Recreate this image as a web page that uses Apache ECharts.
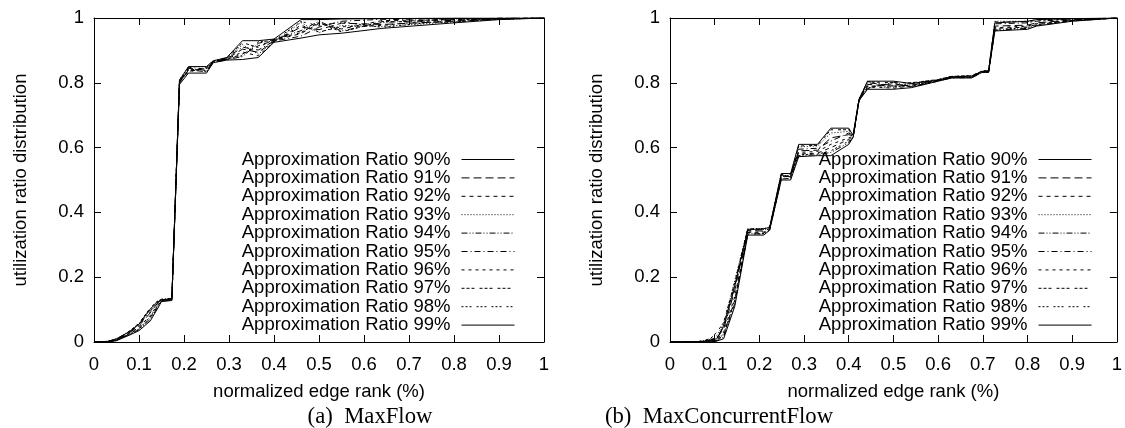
<!DOCTYPE html>
<html><head><meta charset="utf-8">
<script src="https://cdn.jsdelivr.net/npm/echarts@6/dist/echarts.min.js"></script>
<style>html,body{margin:0;padding:0;background:#fff}#c{width:1125px;height:428px}</style>
</head><body><div id="c"></div>
<script>
// ---------- data ----------
const seriesNames = ['Approximation Ratio 90%','Approximation Ratio 91%','Approximation Ratio 92%','Approximation Ratio 93%','Approximation Ratio 94%','Approximation Ratio 95%','Approximation Ratio 96%','Approximation Ratio 97%','Approximation Ratio 98%','Approximation Ratio 99%'];
const xTickValues = [0,0.1,0.2,0.3,0.4,0.5,0.6,0.7,0.8,0.9,1];
const yTickValues = [0,0.2,0.4,0.6,0.8,1];

// (a) MaxFlow
const xMaxFlow = [0,0.03,0.05,0.08,0.10,0.125,0.14,0.15,0.173,0.19,0.21,0.25,0.265,0.295,0.33,0.365,0.40,0.46,0.50,0.55,0.64,0.80,0.90,1];
const mf90 = [0,0,0.004,0.022,0.035,0.065,0.10,0.125,0.128,0.795,0.83,0.83,0.862,0.87,0.872,0.878,0.925,0.938,0.948,0.953,0.968,0.985,0.995,1];
const mf91 = [0,0.001,0.007,0.03,0.05,0.09,0.118,0.13,0.133,0.80,0.845,0.838,0.864,0.874,0.904,0.894,0.928,0.972,0.964,0.984,0.98,0.99,0.997,1];
const mf92 = [0,0,0.005,0.026,0.042,0.075,0.108,0.127,0.13,0.805,0.835,0.846,0.866,0.872,0.889,0.914,0.931,0.952,0.983,0.966,0.992,0.995,0.999,1];
const mf93 = [0,0.002,0.009,0.034,0.056,0.1,0.124,0.132,0.135,0.81,0.85,0.85,0.868,0.876,0.918,0.888,0.927,0.986,0.955,0.977,0.974,0.988,0.996,1];
const mf94 = [0,0.001,0.006,0.024,0.038,0.07,0.104,0.126,0.129,0.798,0.84,0.834,0.863,0.871,0.881,0.922,0.933,0.961,0.99,0.96,0.986,0.997,0.998,1];
const mf95 = [0,0,0.01,0.031,0.053,0.095,0.12,0.131,0.134,0.803,0.848,0.842,0.865,0.877,0.91,0.901,0.929,0.944,0.972,0.99,0.996,0.992,1,1];
const mf96 = [0,0.002,0.005,0.028,0.045,0.082,0.112,0.128,0.131,0.807,0.833,0.848,0.867,0.873,0.895,0.883,0.926,0.978,0.957,0.973,0.977,0.999,0.997,1];
const mf97 = [0,0.001,0.008,0.035,0.058,0.105,0.125,0.132,0.135,0.80,0.843,0.836,0.864,0.875,0.924,0.909,0.934,0.955,0.986,0.957,0.989,0.987,0.999,1];
const mf98 = [0,0,0.006,0.025,0.04,0.078,0.11,0.127,0.13,0.81,0.838,0.844,0.866,0.872,0.884,0.927,0.93,0.989,0.976,0.988,0.971,0.994,0.996,1];
const mf99 = [0,0.002,0.01,0.033,0.055,0.102,0.122,0.13,0.133,0.808,0.85,0.85,0.868,0.878,0.93,0.93,0.935,0.995,0.995,0.997,0.998,1,1,1];

// (b) MaxConcurrentFlow
const xConcFlow = [0,0.06,0.09,0.105,0.12,0.145,0.174,0.21,0.223,0.249,0.27,0.288,0.33,0.36,0.40,0.41,0.423,0.442,0.50,0.54,0.60,0.63,0.675,0.698,0.713,0.727,0.80,0.82,0.90,1];
const mcf90 = [0,0,0,0.003,0.01,0.11,0.33,0.33,0.345,0.50,0.50,0.572,0.575,0.575,0.61,0.632,0.745,0.78,0.78,0.785,0.805,0.815,0.815,0.832,0.832,0.96,0.965,0.975,0.99,1];
const mcf91 = [0,0,0.004,0.012,0.04,0.16,0.345,0.342,0.35,0.512,0.51,0.59,0.592,0.63,0.64,0.636,0.748,0.795,0.79,0.793,0.808,0.818,0.819,0.834,0.835,0.975,0.978,0.985,0.994,1];
const mcf92 = [0,0.001,0.002,0.006,0.02,0.13,0.338,0.336,0.348,0.506,0.516,0.58,0.583,0.6,0.625,0.634,0.746,0.788,0.797,0.789,0.806,0.816,0.817,0.833,0.834,0.968,0.972,0.98,0.992,1];
const mcf93 = [0,0,0.008,0.02,0.055,0.19,0.35,0.35,0.355,0.52,0.52,0.602,0.605,0.645,0.65,0.64,0.75,0.805,0.785,0.8,0.81,0.82,0.822,0.836,0.838,0.99,0.99,0.995,0.998,1];
const mcf94 = [0,0,0.001,0.004,0.015,0.12,0.335,0.333,0.346,0.503,0.505,0.575,0.578,0.585,0.615,0.633,0.745,0.782,0.802,0.787,0.805,0.815,0.816,0.832,0.833,0.962,0.968,0.977,0.991,1];
const mcf95 = [0,0.001,0.006,0.015,0.045,0.17,0.348,0.346,0.352,0.515,0.513,0.595,0.598,0.62,0.645,0.638,0.749,0.8,0.792,0.797,0.809,0.819,0.82,0.835,0.837,0.982,0.985,0.99,0.996,1];
const mcf96 = [0,0,0.003,0.008,0.03,0.14,0.34,0.339,0.349,0.509,0.518,0.585,0.588,0.61,0.63,0.635,0.747,0.79,0.783,0.791,0.807,0.817,0.818,0.833,0.835,0.97,0.975,0.983,0.993,1];
const mcf97 = [0,0,0.01,0.03,0.06,0.185,0.35,0.348,0.355,0.518,0.508,0.605,0.607,0.655,0.655,0.64,0.75,0.803,0.8,0.8,0.81,0.82,0.822,0.836,0.838,0.988,0.988,0.993,0.997,1];
const mcf98 = [0,0.001,0.002,0.005,0.025,0.125,0.332,0.335,0.347,0.505,0.514,0.578,0.58,0.59,0.62,0.634,0.746,0.785,0.788,0.788,0.806,0.816,0.817,0.834,0.834,0.965,0.97,0.979,0.992,1];
const mcf99 = [0,0,0.005,0.01,0.05,0.175,0.346,0.35,0.353,0.52,0.52,0.61,0.61,0.66,0.66,0.637,0.748,0.805,0.805,0.798,0.808,0.818,0.821,0.835,0.836,0.985,0.99,0.995,0.998,1];

const captionA = '(a)  MaxFlow';
const captionB = '(b)  MaxConcurrentFlow';
const xAxisTitle = 'normalized edge rank (%)';
const yAxisTitle = 'utilization ratio distribution';

// ---------- styling ----------
const FONT = '"Liberation Sans", Arial, Helvetica, sans-serif';
const FS = 18.5;
const dashes = ['solid',[8,4],[4,4],[1,2],[6,2,1,2,1,2],[6,3,1,3],[3,4],[3,2,3,2,3,5],[2,2,2,2,2,5],'solid'];
const maxFlowSets = [mf90,mf91,mf92,mf93,mf94,mf95,mf96,mf97,mf98,mf99];
const concSets = [mcf90,mcf91,mcf92,mcf93,mcf94,mcf95,mcf96,mcf97,mcf98,mcf99];

const chart = echarts.init(document.getElementById('c'), null, {renderer:'canvas'});

function xAx(grid, pos, show){
  return {type:'value', gridIndex:grid, position:pos, min:0, max:1, interval:0.1,
    axisLine:{show:true, onZero:false, lineStyle:{color:'#000', width:1}},
    axisTick:{show:true, inside:true, length:7, lineStyle:{color:'#000'}},
    splitLine:{show:false},
    axisLabel:{show:show, color:'#000', fontSize:FS, fontFamily:FONT, margin:13,
      showMinLabel:true, showMaxLabel:true, formatter:v=>String(+v.toFixed(1))},
    name: show ? xAxisTitle : '', nameLocation:'middle', nameGap:40,
    nameTextStyle:{color:'#000', fontSize:FS, fontFamily:FONT}};
}
function yAx(grid, pos, show){
  return {type:'value', gridIndex:grid, position:pos, min:0, max:1, interval:0.2,
    axisLine:{show:true, onZero:false, lineStyle:{color:'#000', width:1}},
    axisTick:{show:true, inside:true, length:7, lineStyle:{color:'#000'}},
    splitLine:{show:false},
    axisLabel:{show:show, color:'#000', fontSize:FS, fontFamily:FONT, margin:10,
      showMinLabel:true, showMaxLabel:true, formatter:v=>String(+v.toFixed(1))},
    name: show ? yAxisTitle : '', nameLocation:'middle', nameGap:64,
    nameTextStyle:{color:'#000', fontSize:FS, fontFamily:FONT}};
}

const series = [];
maxFlowSets.forEach((ys,k)=>{
  series.push({type:'line', name:seriesNames[k], xAxisIndex:0, yAxisIndex:0,
    data: xMaxFlow.map((x,i)=>[x, ys[i]]), symbol:'none', showSymbol:false, silent:true,
    animation:false, lineStyle:{color:'#000', width:1, type:dashes[k]}, itemStyle:{color:'#000'}});
});
concSets.forEach((ys,k)=>{
  series.push({type:'line', name:seriesNames[k], xAxisIndex:2, yAxisIndex:2,
    data: xConcFlow.map((x,i)=>[x, ys[i]]), symbol:'none', showSymbol:false, silent:true,
    animation:false, lineStyle:{color:'#000', width:1, type:dashes[k]}, itemStyle:{color:'#000'}});
});

function legendAt(right){
  return {orient:'vertical', right:right, top:145, align:'right', itemWidth:53, itemHeight:10, itemGap:-0.6,
    selectedMode:false, data:seriesNames,
    itemStyle:{opacity:0, borderWidth:0},
    lineStyle:{width:1},
    textStyle:{color:'#000', fontSize:FS, fontFamily:FONT, lineHeight:18.4, padding:[0,6,0,0]}};
}

chart.setOption({
  animation:false,
  backgroundColor:'#fff',
  grid:[{left:94, top:18, width:450, height:324},{left:670, top:18, width:449, height:324}],
  xAxis:[xAx(0,'bottom',true), xAx(0,'top',false), xAx(1,'bottom',true), xAx(1,'top',false)],
  yAxis:[yAx(0,'left',true), yAx(0,'right',false), yAx(1,'left',true), yAx(1,'right',false)],
  legend:[legendAt(605), legendAt(28)],
  series: series,
  graphic:[
    {type:'text', x:370, y:417, style:{text:captionA, font:'22.7px "Liberation Serif", "Times New Roman", serif', fill:'#000', textAlign:'center', textVerticalAlign:'middle'}},
    {type:'text', x:719, y:417, style:{text:captionB, font:'22.7px "Liberation Serif", "Times New Roman", serif', fill:'#000', textAlign:'center', textVerticalAlign:'middle'}}
  ]
});
</script></body></html>
